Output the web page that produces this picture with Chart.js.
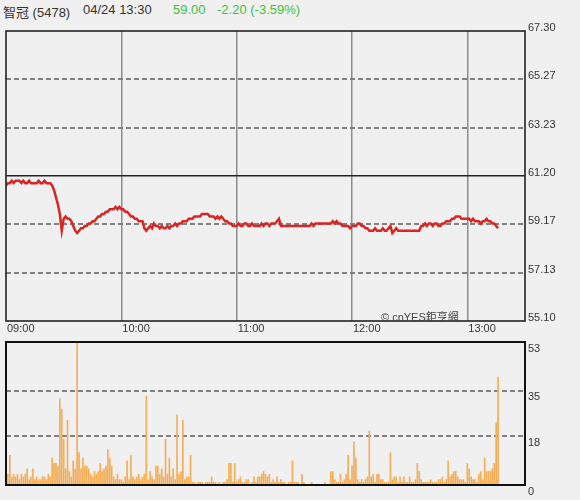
<!DOCTYPE html>
<html>
<head>
<meta charset="utf-8">
<script src="https://cdn.jsdelivr.net/npm/chart.js@4.4.1/dist/chart.umd.min.js"></script>
<style>
body{margin:0;background:#f0f0f0;font-family:"Liberation Sans","Noto Sans CJK TC",sans-serif;}
#wrap{position:relative;width:580px;height:500px;overflow:hidden;}
.hd{position:absolute;top:2px;font-size:13px;color:#333;white-space:nowrap;}
.up{color:#3fbf3f;}
canvas{position:absolute;left:0;}
#mark{position:absolute;left:381px;top:308px;font-size:11px;color:#444;white-space:nowrap;}
</style>
</head>
<body>
<div id="wrap">
  <div class="hd" style="left:3px">智冠 (5478)</div>
  <div class="hd" style="left:83px">04/24 13:30</div>
  <div class="hd up" style="left:173px">59.00</div>
  <div class="hd up" style="left:217px">-2.20 (-3.59%)</div>
  <canvas id="priceChart" width="580" height="340" style="top:0"></canvas>
  <canvas id="volChart" width="580" height="160" style="top:340px"></canvas>
  <div id="mark">© cnYES鉅亨網</div>
</div>
<script>
// minutes since 09:00, one value per minute
const timeTicks = [0, 60, 120, 180, 240];
const timeLabels = ['09:00', '10:00', '11:00', '12:00', '13:00'];
const priceTicks = [55.10, 57.13, 59.17, 61.20, 63.23, 65.27, 67.30];
const refPrice = 61.20;
const volTicks = [0, 18, 35, 53];

const price = [
  60.8, 60.9, 60.9, 61.0, 60.9, 61.0, 61.0, 61.0, 60.9, 61.0,
  60.9, 60.9, 61.0, 60.9, 60.9, 60.9, 60.9, 61.0, 60.9, 60.9,
  61.0, 60.9, 60.9, 60.9, 60.8, 60.6, 60.3, 60.0, 59.6, 58.9,
  59.4, 59.5, 59.4, 59.4, 59.3, 59.1, 58.9, 58.8, 58.9, 59.0,
  59.0, 59.1, 59.1, 59.2, 59.2, 59.3, 59.3, 59.4, 59.5, 59.5,
  59.6, 59.6, 59.7, 59.7, 59.8, 59.8, 59.8, 59.9, 59.8, 59.9,
  59.8, 59.8, 59.7, 59.7, 59.6, 59.5, 59.5, 59.4, 59.4, 59.3,
  59.3, 59.3, 59.0, 58.9, 59.0, 59.1, 59.0, 59.2, 59.1, 59.1,
  59.0, 59.1, 59.0, 59.0, 59.1, 59.0, 59.1, 59.1, 59.2, 59.1,
  59.2, 59.2, 59.3, 59.3, 59.3, 59.4, 59.4, 59.4, 59.5, 59.5,
  59.5, 59.5, 59.6, 59.6, 59.6, 59.6, 59.5, 59.5, 59.5, 59.4,
  59.5, 59.4, 59.5, 59.4, 59.3, 59.3, 59.2, 59.2, 59.1, 59.1,
  59.1, 59.2, 59.1, 59.1, 59.2, 59.2, 59.1, 59.1, 59.2, 59.1,
  59.1, 59.1, 59.1, 59.2, 59.1, 59.2, 59.2, 59.1, 59.2, 59.2,
  59.2, 59.3, 59.4, 59.1, 59.1, 59.1, 59.1, 59.1, 59.1, 59.1,
  59.1, 59.1, 59.1, 59.1, 59.1, 59.1, 59.1, 59.1, 59.1, 59.2,
  59.1, 59.2, 59.2, 59.2, 59.2, 59.2, 59.2, 59.2, 59.2, 59.2,
  59.3, 59.2, 59.3, 59.2, 59.2, 59.1, 59.1, 59.1, 59.1, 59.0,
  59.1, 59.1, 59.1, 59.2, 59.2, 59.1, 59.1, 59.0, 59.0, 58.9,
  58.9, 58.9, 59.0, 58.9, 58.9, 58.9, 59.0, 58.9, 58.9, 59.0,
  59.1, 58.8, 58.9, 59.0, 58.9, 58.9, 58.9, 58.9, 58.9, 58.9,
  58.9, 58.9, 58.9, 58.9, 58.9, 58.9, 59.1, 59.1, 59.2, 59.1,
  59.2, 59.2, 59.1, 59.2, 59.2, 59.1, 59.1, 59.2, 59.2, 59.3,
  59.3, 59.3, 59.4, 59.4, 59.5, 59.5, 59.5, 59.4, 59.4, 59.4,
  59.4, 59.4, 59.3, 59.4, 59.3, 59.3, 59.3, 59.2, 59.3, 59.3,
  59.4, 59.3, 59.3, 59.2, 59.2, 59.1, 59.0
];

const volume = [
  14, 4, 11, 3, 4, 3, 4, 2, 4, 3,
  4, 6, 2, 3, 6, 2, 3, 2, 2, 3,
  3, 2, 4, 3, 10, 8, 8, 7, 32, 28,
  17, 6, 24, 5, 3, 9, 6, 53, 12, 6,
  10, 7, 7, 6, 4, 3, 5, 4, 5, 8,
  5, 6, 7, 13, 10, 7, 3, 2, 4, 2,
  2, 1, 3, 9, 2, 11, 3, 2, 3, 4,
  2, 3, 4, 33, 2, 5, 3, 2, 7, 7,
  4, 6, 3, 17, 4, 10, 3, 6, 2, 26,
  4, 5, 24, 2, 3, 3, 11, 1, 1, 0,
  1, 1, 1, 0, 1, 1, 1, 3, 1, 1,
  0, 1, 0, 1, 1, 2, 8, 8, 1, 8,
  1, 2, 3, 1, 1, 2, 2, 0, 1, 3,
  1, 3, 3, 4, 5, 4, 3, 4, 1, 2,
  1, 3, 1, 2, 1, 1, 0, 1, 1, 9,
  1, 1, 1, 0, 4, 1, 0, 0, 0, 1,
  0, 0, 0, 0, 0, 0, 1, 0, 0, 5,
  5, 2, 1, 1, 4, 1, 2, 4, 11, 2,
  7, 16, 10, 2, 1, 2, 1, 2, 3, 20,
  3, 4, 1, 4, 4, 2, 2, 1, 1, 1,
  12, 2, 3, 3, 1, 3, 1, 3, 1, 1,
  3, 1, 1, 2, 8, 5, 2, 1, 1, 1,
  1, 2, 1, 1, 1, 2, 2, 3, 1, 2,
  9, 3, 4, 5, 5, 3, 2, 2, 2, 1,
  8, 6, 3, 2, 2, 1, 4, 5, 2, 10,
  5, 5, 5, 6, 8, 23, 40
];

Chart.defaults.font.family = '"Liberation Sans", Arial, sans-serif';
Chart.defaults.font.size = 11;
Chart.defaults.color = '#333';
Chart.defaults.animation = false;

const frame = {
  id: 'frame',
  afterDraw(chart, args, opts) {
    const {ctx, chartArea: a} = chart;
    ctx.save();
    ctx.strokeStyle = opts.color;
    ctx.lineWidth = opts.width;
    ctx.strokeRect(a.left, a.top, a.right - a.left, a.bottom - a.top);
    ctx.restore();
  }
};

const setTicks = vals => scale => { scale.ticks = vals.map(v => ({value: v})); };
const isEdge = (v, lo, hi) => Math.abs(v - lo) < 1e-6 || Math.abs(v - hi) < 1e-6;
const fixWidth = w => s => { s.width = w; s.paddingTop = 0; s.paddingBottom = 0; };

new Chart(document.getElementById('priceChart'), {
  type: 'line',
  data: {
    datasets: [{
      data: price.map((p, i) => ({x: i, y: p})),
      borderColor: '#d62626',
      borderWidth: 2.5,
      pointRadius: 0,
      tension: 0
    }]
  },
  options: {
    responsive: false,
    layout: {padding: {top: 31, left: 6, right: 0, bottom: 0}},
    plugins: {legend: {display: false}, tooltip: {enabled: false}, frame: {color: '#222', width: 1.6}},
    scales: {
      x: {
        type: 'linear', min: 0, max: 270,
        afterBuildTicks: setTicks(timeTicks),
        afterFit: s => { s.height = 19; },
        grid: {
          drawTicks: false,
          color: c => c.tick && c.tick.value === 0 ? 'rgba(0,0,0,0)' : '#8c8c8c',
          lineWidth: 1.5
        },
        border: {display: false},
        ticks: {align: 'start', padding: 1, labelOffset: 1, maxRotation: 0, autoSkip: false,
          callback: (v, i) => timeLabels[i]}
      },
      y: {
        position: 'right', min: 55.10, max: 67.30,
        afterBuildTicks: setTicks(priceTicks),
        afterFit: fixWidth(55),
        grid: {
          drawTicks: false,
          color: c => {
            if (!c.tick) return '#888';
            if (Math.abs(c.tick.value - refPrice) < 1e-6) return '#222';
            return isEdge(c.tick.value, 55.10, 67.30) ? 'rgba(0,0,0,0)' : '#808080';
          },
          lineWidth: c => c.tick && Math.abs(c.tick.value - refPrice) < 1e-6 ? 1.5 : 2
        },
        border: {display: false, dash: c => c.tick && Math.abs(c.tick.value - refPrice) < 1e-6 ? [] : [5, 3]},
        ticks: {padding: 3, labelOffset: -3, autoSkip: false, callback: v => v.toFixed(2)}
      }
    }
  },
  plugins: [frame]
});

new Chart(document.getElementById('volChart'), {
  type: 'bar',
  data: {
    datasets: [{
      data: volume.map((v, i) => ({x: i, y: v})),
      backgroundColor: '#f4ad55',
      barThickness: 1
    }]
  },
  options: {
    responsive: false,
    layout: {padding: {top: 2, left: 6, right: 0, bottom: 15}},
    plugins: {legend: {display: false}, tooltip: {enabled: false}, frame: {color: '#111', width: 2}},
    scales: {
      x: {type: 'linear', min: 0, max: 270, offset: false, display: false, grid: {offset: false}},
      y: {
        position: 'right', min: 0, max: 53,
        afterBuildTicks: setTicks(volTicks),
        afterFit: fixWidth(55),
        grid: {
          drawTicks: false,
          color: c => c.tick && isEdge(c.tick.value, 0, 53) ? 'rgba(0,0,0,0)' : '#808080',
          lineWidth: 2
        },
        border: {display: false, dash: [5, 3]},
        ticks: {padding: 3, labelOffset: 6.5, autoSkip: false}
      }
    }
  },
  plugins: [frame]
});
</script>
</body>
</html>
